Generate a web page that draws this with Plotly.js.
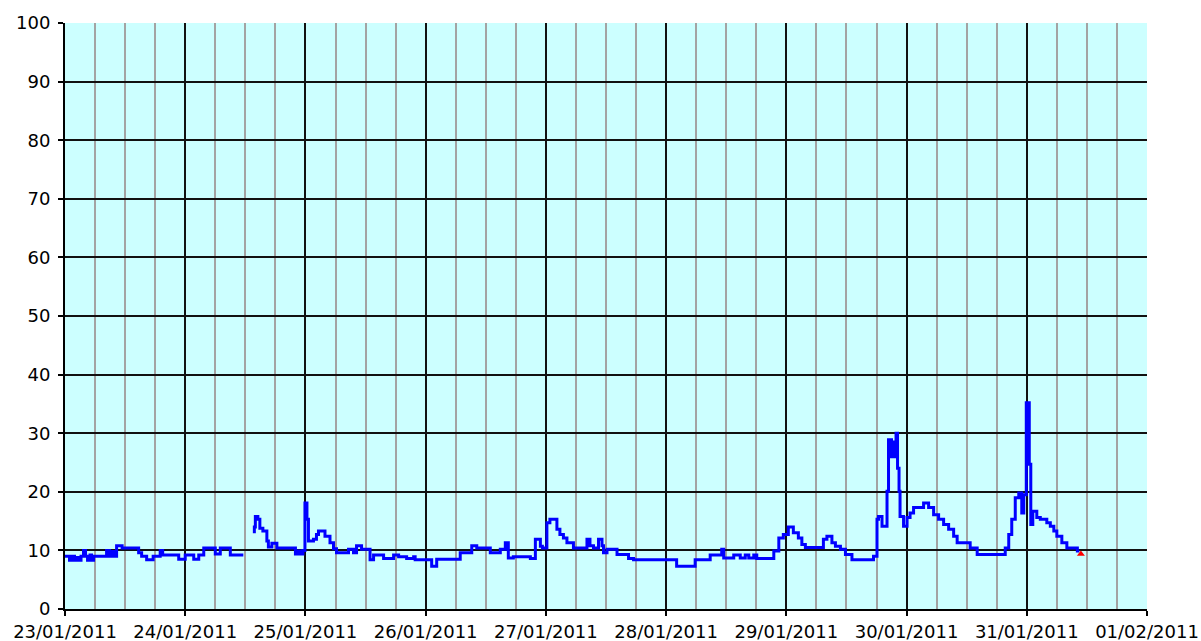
<!DOCTYPE html>
<html>
<head>
<meta charset="utf-8">
<script src="https://cdn.plot.ly/plotly-3.0.1.min.js"></script>
<style>html,body{margin:0;padding:0;background:#fff;}#chart{width:1201px;height:641px;}</style>
</head>
<body>
<div id="chart"></div>
<script>
// hours since 23/01/2011 00:00 at which the value changes (null = no data)
const hours = [
  0,0.9,1.5,1.9,2.3,2.6,3.2,3.7,4.1,4.5,5.0,5.3,5.7,8.3,8.9,9.3,9.8,10.3,11.4,14.7,15.3,16.3,17.6,19.0,19.5,22.7,24.0,25.7,26.7,27.7,30.0,31.0,33.0,35.6,
  36.5,
  37.5,37.8,38.0,38.5,38.9,39.5,40.3,40.6,41.3,42.3,46.0,46.5,47.0,47.5,47.9,48.3,48.6,49.6,50.2,50.6,51.9,52.9,53.6,54.2,56.6,57.6,58.2,59.2,60.9,61.6,63.6,65.6,66.6,68.2,69.6,69.9,73.2,74.2,78.9,81.2,82.2,84.9,86.9,87.9,88.5,89.5,92.9,93.9,94.9,95.3,96.2,96.8,98.2,98.8,99.5,100.2,101.5,104.2,104.8,105.5,106.5,107.2,107.5,108.2,110.2,112.5,113.5,122.1,125.8,128.8,131.1,131.5,133.5,134.8,135.8,136.5,137.5,138.1,141.5,142.5,143.4,144.4,145.4,146.4,147.1,147.8,151.4,152.1,153.1,153.8,154.8,155.8,157.1,161.4,162.1,162.4,163.1,164.1,164.4,165.0,165.3,165.6,165.9,166.2,166.5,166.7,167.4,168.1,168.7,169.4,171.4,172.4,173.4,174.4,175.4,176.4,177.4,178.1,180.7,182.1,187.7,188.4,189.0,189.7,190.4,191.0,191.4,191.9,192.5,192.8,193.2,194.0,194.7,196.0,196.7,197.4,198.0,199.0,200.0,202.1,202.5
];
const values = [
  9,8.3,9,8.3,8.8,8.3,9,10,9,8.3,9.2,8.3,9,10,9,9.8,9,10.8,10.4,9.6,9,8.4,9,10,9.2,8.5,9.2,8.5,9.2,10.4,9.4,10.4,9.2,9.2,
  null,
  13.2,14,15.8,15.3,13.8,13.3,11.6,10.6,11.2,10.4,9.4,9.9,9.4,10,18.1,15.3,11.6,11.9,12.7,13.3,12.4,11.3,10.3,9.6,10.2,9.6,10.8,10.2,8.4,9.2,8.6,9.2,8.9,8.6,8.9,8.4,7.3,8.5,9.6,10.8,10.4,9.6,10.2,11.3,8.7,8.9,8.6,11.9,10.7,10.4,14.7,15.3,13.6,12.7,12.1,11.3,10.4,11.9,10.8,10.4,11.9,10.8,9.6,10.2,9.3,8.6,8.4,7.3,8.4,9.2,10.2,8.7,9.2,8.7,9.2,8.7,9.2,8.6,9.9,12.1,12.7,14,13,12.1,11,10.5,11.9,12.4,11.3,10.7,10.2,9.3,8.4,9,15.3,15.8,14.1,20.1,28.9,26,28.5,26,30,24,20.1,15.8,14.1,15.6,16.4,17.3,18.1,17.3,16.1,15.3,14.4,13.6,12.4,11.3,10.4,9.3,10.4,12.7,15.3,19,19.8,16.4,19.5,35.2,24.7,14.4,16.7,15.6,15.3,14.7,14.1,13.3,12.4,11.3,10.4,9.9,9.9
];
const lastHour = [202.8];
const lastValue = [9.4];
const startDate = '2011-01-23';
const endDate = '2011-02-01';

function toDate(h) {
  const d = new Date(Date.UTC(2011, 0, 23) + Math.round(h * 3600000));
  const p = n => String(n).padStart(2, '0');
  return d.getUTCFullYear() + '-' + p(d.getUTCMonth() + 1) + '-' + p(d.getUTCDate()) + ' ' +
         p(d.getUTCHours()) + ':' + p(d.getUTCMinutes()) + ':' + p(d.getUTCSeconds());
}

const font = {family: 'DejaVu Sans, Verdana, sans-serif', size: 18, color: '#000'};

Plotly.newPlot('chart', [
  {
    x: hours.map(toDate), y: values, type: 'scatter', mode: 'lines',
    line: {color: '#0000FF', width: 3, shape: 'hv'}, connectgaps: false, hoverinfo: 'skip'
  },
  {
    x: lastHour.map(toDate), y: lastValue, type: 'scatter', mode: 'markers',
    marker: {color: '#FF0000', size: 7, symbol: 'triangle-up'}, hoverinfo: 'skip'
  }
], {
  width: 1201, height: 641,
  margin: {l: 65, r: 54, t: 23, b: 32},
  paper_bgcolor: '#FFFFFF',
  plot_bgcolor: '#CCFFFF',
  showlegend: false,
  font: font,
  xaxis: {
    type: 'date', range: [startDate, endDate],
    tick0: startDate, dtick: 86400000, tickformat: '%d/%m/%Y',
    ticks: 'outside', ticklen: 5, tickcolor: '#000', tickwidth: 2,
    showgrid: true, gridcolor: '#111', gridwidth: 2,
    minor: {dtick: 21600000, tick0: startDate, showgrid: true, gridcolor: '#A3A3A3', gridwidth: 2, ticks: ''},
    showline: true, linecolor: '#000', linewidth: 2, mirror: false,
    zeroline: false, automargin: false, tickfont: font
  },
  yaxis: {
    range: [0, 100], dtick: 10, tick0: 0,
    ticks: 'outside', ticklen: 5, tickcolor: '#000', tickwidth: 2,
    showgrid: true, gridcolor: '#111', gridwidth: 2,
    showline: true, linecolor: '#000', linewidth: 2,
    zeroline: false, automargin: false, tickfont: font, ticklabelstandoff: 4
  }
}, {staticPlot: true, displayModeBar: false});
</script>
</body>
</html>
